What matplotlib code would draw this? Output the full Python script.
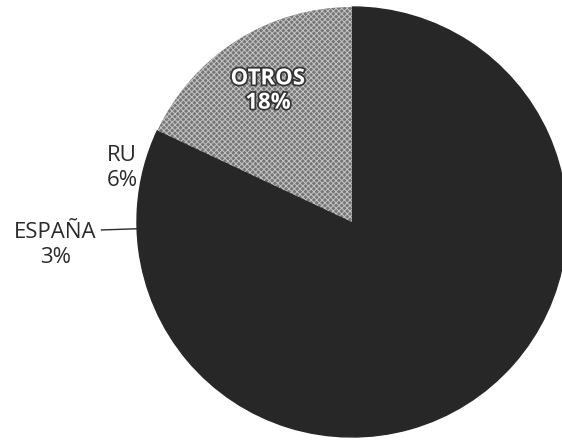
import numpy as np
import matplotlib.pyplot as plt
import matplotlib.patheffects as pe

# datos
categorias = ["", "ESPAÑA", "RU", "OTROS"]
valores = [73, 3, 6, 18]
colores = ["#272727", "#272727", "#272727", "#767676"]

plt.rcParams['font.family'] = ['Open Sans', 'DejaVu Sans']
plt.rcParams['hatch.linewidth'] = 0.7

fig = plt.figure(figsize=(5.62, 4.41), dpi=100)
ax = fig.add_axes([0, 0, 1, 1])

wedges, _ = ax.pie(valores, colors=colores, startangle=90, counterclock=False,
                   radius=1.0)

# sin costuras entre los sectores oscuros
for w in wedges[:3]:
    w.set_edgecolor("#272727")
    w.set_linewidth(1.0)

# textura moteada del sector OTROS
wedges[3].set_hatch("xxxxxx")
wedges[3].set_edgecolor("#c4c4c4")
wedges[3].set_linewidth(0)

ax.set_xlim(-352 / 215, 210 / 215)
ax.set_ylim(-219 / 215, 222 / 215)
ax.set_aspect('equal')
ax.axis('off')

txt = "#2b2b2b"
fs = 16

# RU
ax.text(-1.070, 0.251, f"RU\n{valores[2]}%", ha="center", va="center",
        fontsize=fs, color=txt, linespacing=1.25)

# ESPAÑA con línea guía
ax.text(-1.381, -0.107, f"ESPAÑA\n{valores[1]}%", ha="center", va="center",
        fontsize=fs, color=txt, linespacing=1.25)
w = wedges[1]
ang = np.deg2rad((w.theta1 + w.theta2) / 2)
ax.plot([-1.165, np.cos(ang)], [-0.037, np.sin(ang)], color=txt, lw=1.0)

# OTROS dentro del sector
ax.text(-0.391, 0.609, f"OTROS\n{valores[3]}%", ha="center", va="center",
        fontsize=fs, color="white", fontweight="bold", linespacing=1.2,
        path_effects=[pe.withStroke(linewidth=2.5, foreground="#333333")])

fig.savefig("out.png", dpi=100)
